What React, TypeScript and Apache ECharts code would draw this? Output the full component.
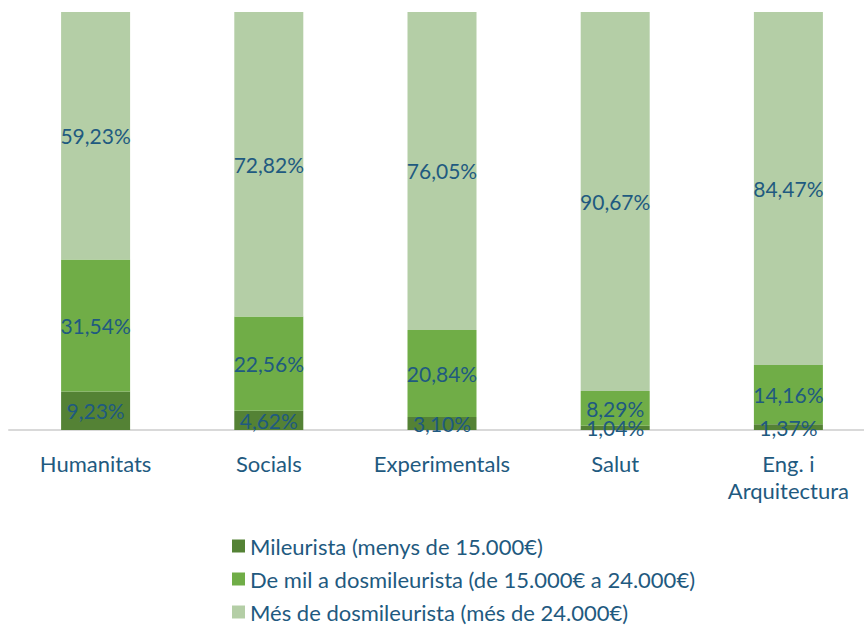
import React, { useEffect, useRef } from "react";
import * as echarts from "echarts";

const categories = ["Humanitats", "Socials", "Experimentals", "Salut", "Eng. i\nArquitectura"];
const seriesNames = [
  "Mileurista (menys de 15.000€)",
  "De mil a dosmileurista (de 15.000€ a 24.000€)",
  "Més de dosmileurista (més de 24.000€)",
];
const mileurista = [9.23, 4.62, 3.1, 1.04, 1.37];
const deMil = [31.54, 22.56, 20.84, 8.29, 14.16];
const mesDe = [59.23, 72.82, 76.05, 90.67, 84.47];
const colors = ["#548235", "#70AD47", "#B4CEA6"];

const FONT = "Lato";
const TEXT = "#1F5A80";

export default function App() {
  const ref = useRef<HTMLDivElement>(null);
  useEffect(() => {
    if (!ref.current) return;
    const chart = echarts.init(ref.current, undefined, { renderer: "svg" });
    const values = [mileurista, deMil, mesDe];
    chart.setOption({
      animation: false,
      color: colors,
      grid: { left: 9, right: 0, top: 12, bottom: 195, containLabel: false },
      xAxis: {
        type: "category",
        data: categories,
        axisLine: { lineStyle: { color: "#D9D9D9", width: 2 } },
        axisTick: { show: false },
        axisLabel: {
          interval: 0,
          color: TEXT,
          fontFamily: FONT,
          fontSize: 22,
          lineHeight: 27,
          margin: 20,
        },
      },
      yAxis: { type: "value", min: 0, max: 100, show: false, splitLine: { show: false } },
      legend: {
        orient: "vertical",
        left: 227,
        top: 530,
        height: 120,
        itemWidth: 13,
        itemHeight: 13,
        itemGap: 11,
        icon: "rect",
        textStyle: { color: TEXT, fontFamily: FONT, fontSize: 22, lineHeight: 20 },
        data: seriesNames,
      },
      series: seriesNames.map((name, i) => ({
        name,
        type: "bar",
        stack: "total",
        barWidth: 69,
        data: values[i],
        label: {
          show: true,
          position: "inside",
          color: TEXT,
          fontFamily: FONT,
          fontSize: 21,
          formatter: (p: any) => p.value.toFixed(2).replace(".", ",") + "%",
        },
      })),
    });
    return () => chart.dispose();
  }, []);
  return (
    <div style={{ position: "fixed", left: 0, top: 0, width: 864, height: 625, overflow: "hidden", background: "#fff" }}>
      <div ref={ref} style={{ width: 875, height: 625 }} />
    </div>
  );
}
